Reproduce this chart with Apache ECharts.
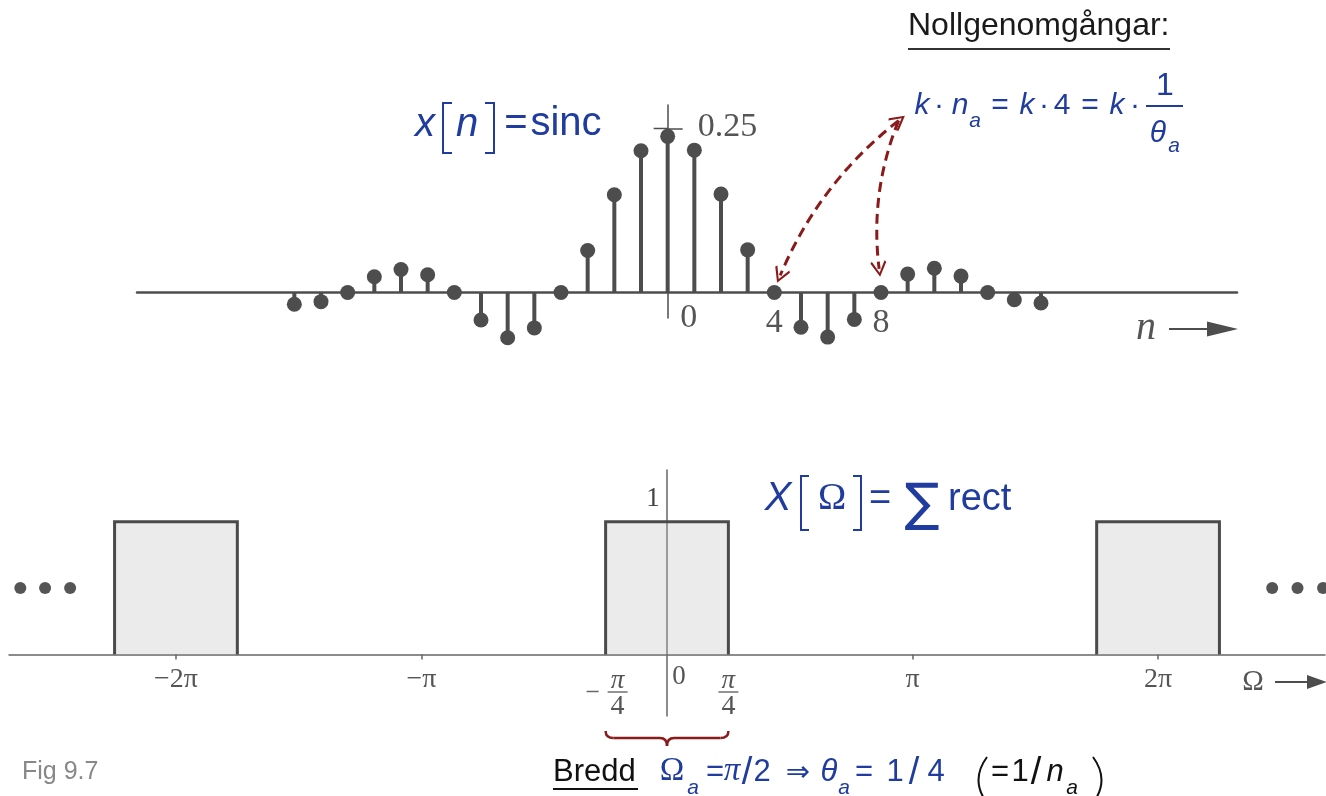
<!DOCTYPE html>
<html>
<head>
<meta charset="utf-8">
<title>Fig 9.7</title>
<script src="https://cdn.jsdelivr.net/npm/echarts@6/dist/echarts.min.js"></script>
<style>
  html, body { margin: 0; background: #fff; }
  #chart { width: 1326px; height: 796px; }
</style>
</head>
<body>
<div id="chart"></div>
<script>
// x[n] = sinc  (stem values)
const nVals = [-14, -13, -12, -11, -10, -9, -8, -7, -6, -5, -4, -3, -2, -1, 0,
  1, 2, 3, 4, 5, 6, 7, 8, 9, 10, 11, 12, 13, 14]
const xVals = [-0.018, -0.014, 0, 0.024, 0.035, 0.027, 0, -0.042, -0.069, -0.054, 0, 0.064, 0.149, 0.216, 0.238,
  0.217, 0.150, 0.065, 0, -0.053, -0.068, -0.041, 0, 0.028, 0.037, 0.025, 0, -0.011, -0.016]
const nTickLabels = [4, 8]
const yTickLabels = [0.25]
// nollgenomgångar pointed at by the dashed arrows: [n, x]
const arrowStart = [8.66, 0.262]
const arrowEnd4 = [4.22, 0.026]
const arrowEnd8 = [7.93, 0.036]

// X(Ω) = sum of rect, Ω in units of π
const rectCenters = [-2, 0, 2]
const rectHalfWidth = 0.25
const rectHeights = [1, 1, 1]
const omegaTicks = [-2, -1, 1, 2]
const omegaTickLabels = ['−2π', '−π', 'π', '2π']
const dotsX = [-2.634, -2.533, -2.431, 2.465, 2.568, 2.672]
const dotsY = 0.5

const BLUE = '#1f3c9e'
const RED = '#8b1a1a'
const GRAY = '#4d4d4d'
const SERIF = 'Liberation Serif'
const chevron = 'path://M0,0 L10,12 L8,13.5 L0,3.5 L-8,13.5 L-10,12 Z'

const chart = echarts.init(document.getElementById('chart'))

let option = {
  animation: false,
  backgroundColor: '#fff',
  grid: [
    { left: 137, right: 89, top: 105, bottom: 478, outerBoundsMode: 'none', containLabel: false },
    { left: 9, right: 1, top: 470, bottom: 80, outerBoundsMode: 'none', containLabel: false }
  ],
  xAxis: [
    {
      gridIndex: 0, type: 'value', min: -19.9, max: 21.35,
      axisLine: { onZero: true, lineStyle: { color: GRAY, width: 2.5 } },
      axisTick: { show: false },
      splitLine: { show: false },
      axisLabel: { show: false }
    },
    {
      gridIndex: 1, type: 'value', min: -2.68, max: 2.68,
      axisLine: { onZero: true, lineStyle: { color: '#666', width: 1.5 } },
      axisTick: { show: true, customValues: omegaTicks, length: 5, lineStyle: { color: '#666', width: 1.5 } },
      splitLine: { show: false },
      axisLabel: { show: false }
    }
  ],
  yAxis: [
    {
      gridIndex: 0, type: 'value', min: -0.0389, max: 0.2858,
      axisLine: { show: true, onZero: true, lineStyle: { color: GRAY, width: 1.5 } },
      axisTick: { show: true, inside: true, length: 15, customValues: yTickLabels, lineStyle: { color: GRAY, width: 1.5 } },
      splitLine: { show: false },
      axisLabel: { show: false }
    },
    {
      gridIndex: 1, type: 'value', min: -0.463, max: 1.389,
      axisLine: { show: true, onZero: true, lineStyle: { color: '#666', width: 1.5 } },
      axisTick: { show: false },
      splitLine: { show: false },
      axisLabel: { show: false }
    }
  ],
  series: [
    {
      // stems
      type: 'bar', xAxisIndex: 0, yAxisIndex: 0, barWidth: 4, clip: false, silent: true,
      itemStyle: { color: GRAY },
      data: nVals.map((n, i) => [n, xVals[i]])
    },
    {
      // stem heads
      type: 'scatter', xAxisIndex: 0, yAxisIndex: 0, symbolSize: 15, clip: false, silent: true,
      itemStyle: { color: GRAY, opacity: 1 },
      data: nVals.map((n, i) => [n, xVals[i]])
    },
    {
      type: 'lines', coordinateSystem: 'cartesian2d', xAxisIndex: 0, yAxisIndex: 0, silent: true, z: 5,
      symbol: [chevron, chevron], symbolSize: 16,
      lineStyle: { color: RED, width: 3, type: [10, 6], curveness: -0.13, opacity: 1 },
      data: [{ coords: [arrowStart, arrowEnd4] }]
    },
    {
      type: 'lines', coordinateSystem: 'cartesian2d', xAxisIndex: 0, yAxisIndex: 0, silent: true, z: 5,
      symbol: ['none', chevron], symbolSize: 16,
      lineStyle: { color: RED, width: 3, type: [10, 6], curveness: -0.13, opacity: 1 },
      data: [{ coords: [arrowStart, arrowEnd8] }]
    },
    {
      // rect periods
      type: 'custom', xAxisIndex: 1, yAxisIndex: 1, clip: false, silent: true,
      data: rectCenters.map((c, i) => [c, rectHeights[i]]),
      renderItem: (params, api) => {
        const c = api.value(0)
        const h = api.value(1)
        const tl = api.coord([c - rectHalfWidth, h])
        const br = api.coord([c + rectHalfWidth, 0])
        return {
          type: 'group',
          children: [
            { type: 'rect', shape: { x: tl[0], y: tl[1], width: br[0] - tl[0], height: br[1] - tl[1] }, style: { fill: 'rgba(190,190,190,0.3)' } },
            { type: 'polyline', shape: { points: [[tl[0], br[1]], [tl[0], tl[1]], [br[0], tl[1]], [br[0], br[1]]] }, style: { stroke: '#4a4a4a', lineWidth: 3, fill: null } }
          ]
        }
      }
    },
    {
      // "..." on both sides
      type: 'scatter', xAxisIndex: 1, yAxisIndex: 1, symbolSize: 12, clip: false, silent: true,
      itemStyle: { color: '#555', opacity: 1 },
      data: dotsX.map(x => [x, dotsY])
    }
  ]
}

chart.setOption(option)

// ---- labels & annotations ----
function tx(t, cx, base, size, o) {
  o = o || {}
  const fam = o.family || 'Liberation Sans'
  const font = (o.italic ? 'italic ' : '') + size + 'px "' + fam + '"'
  const al = o.align || 'center'
  return {
    type: 'text', x: cx, y: base - size * 0.34, z: 10, silent: true,
    style: { text: t, font: font, fill: o.color || BLUE, align: al, textAlign: al, verticalAlign: 'middle', textVerticalAlign: 'middle' }
  }
}
function ln(x1, y1, x2, y2, color, w) {
  return { type: 'line', z: 10, silent: true, shape: { x1, y1, x2, y2 }, style: { stroke: color, lineWidth: w || 2, fill: null } }
}
function pl(points, color, w) {
  return { type: 'polyline', z: 10, silent: true, shape: { points }, style: { stroke: color, lineWidth: w || 2, fill: null } }
}
function qc(x1, y1, cx, cy, x2, y2, color, w) {
  return { type: 'bezierCurve', z: 10, silent: true, shape: { x1, y1, x2, y2, cpx1: cx, cpy1: cy }, style: { stroke: color, lineWidth: w || 2, fill: null } }
}

const px = (g, v) => chart.convertToPixel({ gridIndex: g }, v)
const gr = []
const LBL = '#555'

// top plot tick labels
const o0 = px(0, [0, 0])
nTickLabels.forEach(n => {
  const p = px(0, [n, 0])
  gr.push(tx(String(n), p[0], p[1] + 42, 34, { family: SERIF, color: LBL }))
})
gr.push(tx('0', o0[0] + 21, o0[1] + 37, 34, { family: SERIF, color: LBL }))
yTickLabels.forEach(v => {
  const p = px(0, [0, v])
  gr.push(ln(p[0] - 14, p[1], p[0], p[1], GRAY, 1.5))
  gr.push(tx(v.toFixed(2), p[0] + 30, p[1] + 10, 34, { family: SERIF, color: LBL, align: 'left' }))
})
// n -->
gr.push(tx('n', 1146, 342, 40, { family: SERIF, italic: true, color: LBL }))
gr.push(ln(1169, 329, 1210, 329, GRAY, 2))
gr.push({ type: 'polygon', z: 10, silent: true, shape: { points: [[1207, 321.5], [1238, 329], [1207, 336.5]] }, style: { fill: GRAY } })

// bottom plot tick labels
const o1 = px(1, [0, 0])
omegaTicks.forEach((v, i) => {
  const p = px(1, [v, 0])
  gr.push(tx(omegaTickLabels[i], p[0], p[1] + 35, 28, { family: SERIF, color: LBL }))
})
const one = px(1, [0, 1])
gr.push(tx('1', one[0] - 14, one[1] - 14, 27, { family: SERIF, color: '#444' }))
gr.push(tx('0', o1[0] + 12, o1[1] + 32, 27, { family: SERIF, color: LBL }))
const qL = px(1, [-rectHalfWidth, 0])
const qR = px(1, [rectHalfWidth, 0])
;[qL, qR].forEach((q, i) => {
  const cx = q[0] + (i === 0 ? 12 : 0)
  gr.push(tx('π', cx, q[1] + 36, 27, { family: SERIF, italic: true, color: LBL }))
  gr.push(ln(cx - 10, q[1] + 37.5, cx + 10, q[1] + 37.5, '#666', 1.4))
  gr.push(tx('4', cx, q[1] + 62, 28, { family: SERIF, color: LBL }))
})
gr.push(ln(qL[0] - 19, qL[1] + 37, qL[0] - 7, qL[1] + 37, '#666', 1.5))
// brace under the middle rect
const bx0 = qL[0], bx1 = qR[0], bxc = (qL[0] + qR[0]) / 2
const by0 = 731, bym = 738, byt = 746
gr.push(qc(bx0, by0, bx0, bym, bx0 + 8, bym, RED, 2.5))
gr.push(ln(bx0 + 8, bym, bxc - 7, bym, RED, 2.5))
gr.push(qc(bxc - 7, bym, bxc, bym, bxc, byt, RED, 2.5))
gr.push(qc(bxc, byt, bxc, bym, bxc + 7, bym, RED, 2.5))
gr.push(ln(bxc + 7, bym, bx1 - 8, bym, RED, 2.5))
gr.push(qc(bx1 - 8, bym, bx1, bym, bx1, by0, RED, 2.5))
// Ω -->
gr.push(tx('Ω', 1253, 692, 29, { family: SERIF, color: LBL }))
gr.push(ln(1275, 682, 1310, 682, GRAY, 2))
gr.push({ type: 'polygon', z: 10, silent: true, shape: { points: [[1307, 675], [1327, 682], [1307, 689]] }, style: { fill: GRAY } })

// Nollgenomgångar:
gr.push(tx('Nollgenomgångar:', 908, 37, 32, { align: 'left', color: '#1a1a1a' }))
gr.push(ln(908, 49, 1170, 49, '#333', 1.8))
// k·n_a = k·4 = k·1/θ_a
gr.push(tx('k', 922, 116, 30, { italic: true }))
gr.push(tx('·', 939, 116, 30))
gr.push(tx('n', 960, 116, 30, { italic: true }))
gr.push(tx('a', 975, 128, 21, { italic: true }))
gr.push(tx('=', 1000, 116, 30))
gr.push(tx('k', 1027, 116, 30, { italic: true }))
gr.push(tx('·', 1044, 116, 30))
gr.push(tx('4', 1062, 116, 30))
gr.push(tx('=', 1090, 116, 30))
gr.push(tx('k', 1117, 116, 30, { italic: true }))
gr.push(tx('·', 1135, 116, 30))
gr.push(tx('1', 1165, 97, 32))
gr.push(ln(1146, 106, 1183, 106, BLUE, 2))
gr.push(tx('θ', 1158, 144, 30, { italic: true }))
gr.push(tx('a', 1174, 153, 21, { italic: true }))

// x[n] = sinc
gr.push(tx('x', 425, 138, 40, { italic: true }))
gr.push(pl([[452, 103], [443, 103], [443, 153], [452, 153]], BLUE, 2))
gr.push(tx('n', 467, 138, 40, { italic: true }))
gr.push(pl([[485, 103], [494, 103], [494, 153], [485, 153]], BLUE, 2))
gr.push(tx('=', 516, 138, 40))
gr.push(tx('sinc', 566, 138, 40))

// X[Ω] = Σ rect
gr.push(tx('X', 778, 512, 40, { italic: true }))
gr.push(pl([[809, 476], [801, 476], [801, 530], [809, 530]], BLUE, 2))
gr.push(tx('Ω', 832, 512, 38, { family: SERIF }))
gr.push(pl([[853, 476], [861, 476], [861, 530], [853, 530]], BLUE, 2))
gr.push(tx('=', 880, 512, 38))
gr.push(tx('∑', 922, 524, 52, { family: 'DejaVu Sans' }))
gr.push(tx('rect', 948, 512, 38, { align: 'left' }))

// Bredd Ω_a = π/2 ⇒ θ_a = 1/4 (=1/n_a)
gr.push(tx('Bredd', 553, 783, 31, { align: 'left', color: '#111' }))
gr.push(ln(553, 789, 638, 789, '#111', 2))
gr.push(tx('Ω', 672, 783, 33, { family: SERIF }))
gr.push(tx('a', 693, 795, 21, { italic: true }))
gr.push(tx('=', 715, 783, 31))
gr.push(tx('π', 732, 783, 33, { family: SERIF, italic: true }))
gr.push(tx('/', 747, 786, 38))
gr.push(tx('2', 762, 783, 31))
gr.push(tx('⇒', 798, 783, 29, { family: 'DejaVu Sans' }))
gr.push(tx('θ', 829, 783, 31, { italic: true }))
gr.push(tx('a', 844, 795, 21, { italic: true }))
gr.push(tx('=', 864, 783, 31))
gr.push(tx('1', 895, 783, 31))
gr.push(tx('/', 914, 786, 38))
gr.push(tx('4', 936, 783, 31))
gr.push(qc(987, 757, 970, 780, 987, 803, '#111', 2))
gr.push(tx('=', 1000, 783, 31, { color: '#111' }))
gr.push(tx('1', 1020, 783, 31, { color: '#111' }))
gr.push(tx('/', 1036, 786, 38, { color: '#111' }))
gr.push(tx('n', 1055, 783, 31, { italic: true, color: '#111' }))
gr.push(tx('a', 1072, 795, 21, { italic: true, color: '#111' }))
gr.push(qc(1093, 757, 1110, 780, 1093, 803, '#111', 2))

// Fig 9.7
gr.push(tx('Fig 9.7', 22, 781, 25, { align: 'left', color: '#888' }))

chart.setOption({ graphic: { elements: gr } })
</script>
</body>
</html>
